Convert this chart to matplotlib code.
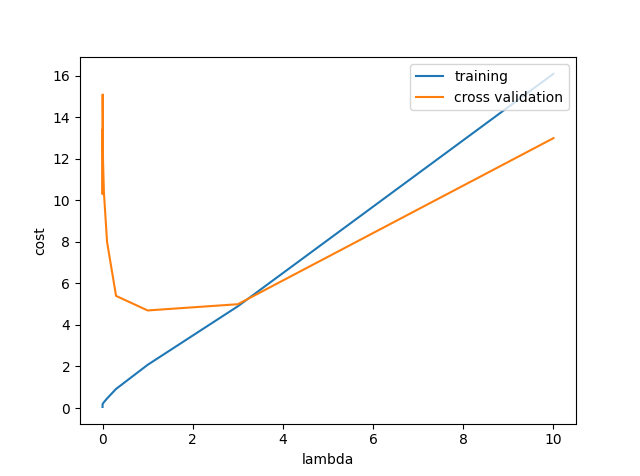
import matplotlib
matplotlib.use("Agg")
import matplotlib.pyplot as plt

lambdas = [0, 0.001, 0.003, 0.01, 0.03, 0.1, 0.3, 1, 3, 10]
train_cost = [0.05, 0.17, 0.2, 0.22, 0.28, 0.46, 0.92, 2.08, 4.9, 16.1]
cv_cost = [13.4, 10.3, 15.1, 12.0, 10.4, 8.0, 5.4, 4.7, 5.0, 13.0]

plt.figure(figsize=(6.4, 4.76), dpi=100)
plt.plot(lambdas, train_cost, label="training")
plt.plot(lambdas, cv_cost, label="cross validation")
plt.xlabel("lambda")
plt.ylabel("cost")
plt.legend(loc="upper right")
plt.savefig("out.png")
